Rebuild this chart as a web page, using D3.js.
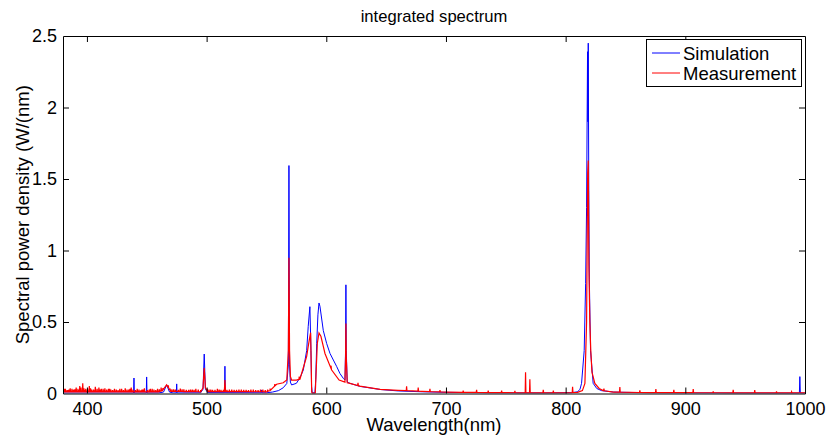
<!DOCTYPE html>
<html>
<head>
<meta charset="utf-8">
<script src="https://cdn.jsdelivr.net/npm/d3@7"></script>
<style>
  body { margin: 0; background: #fff; }
  text { font-family: "Liberation Sans", Arial, sans-serif; fill: #000; }
</style>
</head>
<body>
<div id="chart"></div>
<script>
// simulated spectrum: smooth shape (nm, W/nm)
var simWl = [380, 430, 460, 464, 466.6, 469, 472, 495, 497, 498, 499, 501, 550, 555, 560, 564, 567,
  568.3, 568.8, 569.3, 570, 571, 575, 578, 580.8, 583.6, 584.9, 586.3, 587.2, 587.7, 588.3, 590.5,
  591.2, 592, 593, 593.9, 594.7, 597.5, 600.3, 603.1, 605.9, 608.6, 611.4, 614.2, 615.6, 616.1, 616.4, 616.7, 617.5,
  619.8, 628, 645, 660, 680, 700, 730, 780, 805, 810, 812, 813.3, 815.5, 816.7, 817.5, 818.3, 818.6,
  818.9, 819.3, 819.8, 820.8, 823, 826, 830, 840, 860, 900, 990, 995.3, 995.7, 996.1, 1000];
var simVal = [0.003, 0.003, 0.004, 0.01, 0.06, 0.01, 0.004, 0.005, 0.03, 0.276, 0.03, 0.006, 0.005, 0.01, 0.02, 0.04, 0.07,
  0.2, 1.594, 0.2, 0.08, 0.06, 0.071, 0.11, 0.164, 0.30, 0.47, 0.607, 0.3, 0.05, 0.005, 0.005,
  0.1, 0.35, 0.55, 0.633, 0.61, 0.44, 0.35, 0.28, 0.234, 0.19, 0.14, 0.106, 0.094, 0.3, 0.76, 0.3, 0.08,
  0.071, 0.05, 0.028, 0.018, 0.012, 0.008, 0.005, 0.004, 0.006, 0.012, 0.03, 0.071, 0.30, 0.77, 1.3, 2.39, 1.9,
  2.45, 1.5, 0.8, 0.30, 0.071, 0.035, 0.02, 0.01, 0.006, 0.004, 0.003, 0.003, 0.118, 0.003, 0.003];
// narrow simulated lines (nm, height above curve)
var simLineWl = [439.3, 449.9, 475, 515.3, 546];
var simLineH = [0.105, 0.112, 0.063, 0.185, 0.02];

// measured spectrum: smooth shape
var measWl = [380, 460, 463, 466.6, 470, 495, 497, 498, 499, 501, 514.8, 515.3, 515.8, 550, 553, 556, 558.5, 564, 567,
  568.3, 568.8, 569.3, 570, 571, 575, 578, 580.8, 583.6, 584.9, 586.3, 586.9, 587.4, 587.8, 588.3, 590.8,
  591.5, 592.5, 593.9, 595.5, 597.5, 598.9, 604.5, 610.7, 615.6, 616.1, 616.4, 616.7, 617.5, 619.8, 628,
  645, 660, 680, 700, 730, 760, 800, 810, 814, 816.1, 817.5, 818.4, 818.9, 819.4, 820.2, 821, 822, 824.4,
  828, 831.4, 840, 870, 1000];
var measVal = [0.012, 0.012, 0.02, 0.06, 0.015, 0.012, 0.04, 0.178, 0.04, 0.013, 0.013, 0.094, 0.013, 0.012, 0.02, 0.045, 0.065, 0.075, 0.094,
  0.3, 0.95, 0.3, 0.12, 0.094, 0.094, 0.1, 0.18, 0.26, 0.33, 0.40, 0.425, 0.2, 0.01, 0.003, 0.003,
  0.15, 0.35, 0.423, 0.40, 0.33, 0.28, 0.164, 0.094, 0.08, 0.25, 0.49, 0.25, 0.075, 0.071, 0.052,
  0.029, 0.022, 0.015, 0.01, 0.007, 0.005, 0.005, 0.008, 0.02, 0.071, 0.5, 1.54, 1.63, 0.9, 0.5, 0.3, 0.15, 0.071,
  0.035, 0.02, 0.01, 0.006, 0.004];
// narrow measured lines / noise spikes (nm, height above curve)
var measLineWl = [381, 384, 386, 389, 391, 394, 396.5, 399, 402, 404, 407, 410, 412, 415, 418, 420, 423, 426, 429,
  432, 435, 437, 442, 446, 448, 453, 456, 459, 462, 471, 474, 478, 481, 485, 488, 491, 495, 502, 505, 509,
  512, 519, 523, 527, 531, 535, 539, 543, 547, 551, 577.4, 604, 626.5, 667.1, 676.8, 686.6, 695, 714.4,
  725.6, 735.3, 746.5, 757.6, 766.5, 770.1, 781.3, 789.7, 805.8, 832, 845.3, 862, 875.4, 890.4, 906.6,
  923.3, 940, 958, 976.2, 988.8,
  380.5, 382, 383, 385, 387.5, 388.5, 390, 392.5, 393.5, 395, 397.5, 398.5, 400.5, 403, 405.5, 406,
  408.5, 411, 413.5, 414, 416.5, 419, 421.5, 424.5, 427.5, 430.5, 433.5, 436, 438.5, 440.5, 443.5, 445,
  447, 450.5, 452, 454.5, 457.5, 460.5, 463.5, 468, 469.5, 472.5, 476.5, 479.5, 483, 486.5, 489.5, 493,
  500.5, 503.5, 507, 510.5, 514, 517, 521, 525, 529, 533, 537, 541, 545, 549, 553, 557];
var measLineH = [0.02, 0.012, 0.025, 0.015, 0.03, 0.04, 0.06, 0.02, 0.04, 0.015, 0.035, 0.03, 0.02, 0.025, 0.02, 0.015, 0.02, 0.012, 0.02,
  0.025, 0.015, 0.03, 0.02, 0.015, 0.025, 0.02, 0.015, 0.02, 0.025, 0.015, 0.012, 0.02, 0.015, 0.012, 0.015, 0.02, 0.012, 0.015, 0.012, 0.02,
  0.012, 0.015, 0.012, 0.015, 0.012, 0.012, 0.015, 0.012, 0.015, 0.012, 0.02, 0.02, 0.02, 0.03, 0.025, 0.02, 0.012, 0.012,
  0.018, 0.014, 0.014, 0.014, 0.143, 0.095, 0.02, 0.015, 0.04, 0.015, 0.035, 0.015, 0.025, 0.02, 0.025,
  0.01, 0.02, 0.02, 0.01, 0.008,
  0.015, 0.02, 0.01, 0.015, 0.02, 0.01, 0.018, 0.02, 0.012, 0.03, 0.025, 0.012, 0.02, 0.025, 0.015, 0.01,
  0.02, 0.015, 0.02, 0.01, 0.015, 0.02, 0.012, 0.015, 0.02, 0.012, 0.015, 0.02, 0.015, 0.012, 0.015, 0.01,
  0.015, 0.012, 0.015, 0.02, 0.012, 0.015, 0.012, 0.015, 0.012, 0.015, 0.012, 0.015, 0.012, 0.015, 0.012, 0.015,
  0.012, 0.015, 0.012, 0.015, 0.012, 0.012, 0.015, 0.012, 0.015, 0.012, 0.015, 0.012, 0.015, 0.012, 0.015, 0.012];

var xTicks = [400, 500, 600, 700, 800, 900, 1000];
var yTicks = [0, 0.5, 1, 1.5, 2, 2.5];
var seriesNames = ['Simulation', 'Measurement'];
var seriesColors = ['#0000ff', '#ff0000'];

var width = 826, height = 437;
var plotLeft = 63, plotRight = 805, plotTop = 36, plotBottom = 393.5;

var svg = d3.select('#chart').append('svg')
  .attr('width', width).attr('height', height);

var x = d3.scaleLinear().domain([380, 1000]).range([plotLeft, plotRight]);
var y = d3.scaleLinear().domain([0, 2.5]).range([plotBottom, plotTop]);

// merge the smooth curve and the narrow lines into one point list
function buildSeries(wl, val, lineWl, lineH) {
  var pts = wl.map(function(w, i) { return [w, val[i]]; });
  function base(w) {
    for (var i = 1; i < wl.length; i++) {
      if (w <= wl[i]) {
        var t = (w - wl[i - 1]) / (wl[i] - wl[i - 1]);
        return val[i - 1] + t * (val[i] - val[i - 1]);
      }
    }
    return val[val.length - 1];
  }
  lineWl.forEach(function(w, i) {
    pts.push([w - 0.3, base(w - 0.3)]);
    pts.push([w, base(w) + lineH[i]]);
    pts.push([w + 0.3, base(w + 0.3)]);
  });
  pts.sort(function(a, b) { return a[0] - b[0]; });
  return pts;
}

var sim = buildSeries(simWl, simVal, simLineWl, simLineH);
var meas = buildSeries(measWl, measVal, measLineWl, measLineH);

svg.append('clipPath').attr('id', 'clip')
  .append('rect').attr('x', plotLeft).attr('y', plotTop)
  .attr('width', plotRight - plotLeft).attr('height', plotBottom - plotTop);

var line = d3.line()
  .x(function(d) { return x(d[0]); })
  .y(function(d) { return y(d[1]); });

var plot = svg.append('g').attr('clip-path', 'url(#clip)');
[sim, meas].forEach(function(s, i) {
  plot.append('path')
    .attr('d', line(s))
    .attr('fill', 'none')
    .attr('stroke', seriesColors[i])
    .attr('stroke-width', i === 1 ? 1.2 : 1);
});

// axes, MATLAB style: box with inward ticks
var fs = 18, labelFs = 18.5;
var gx = svg.append('g').attr('transform', 'translate(0,' + plotBottom + ')')
  .call(d3.axisBottom(x).tickValues(xTicks).tickSizeInner(-6).tickSizeOuter(0).tickPadding(9).tickFormat(d3.format('d')));
var gxt = svg.append('g').attr('transform', 'translate(0,' + plotTop + ')')
  .call(d3.axisTop(x).tickValues(xTicks).tickSizeInner(-6).tickSizeOuter(0).tickFormat(''));
var gy = svg.append('g').attr('transform', 'translate(' + plotLeft + ',0)')
  .call(d3.axisLeft(y).tickValues(yTicks).tickSizeInner(-6).tickSizeOuter(0).tickPadding(6).tickFormat(d3.format('')));
var gyr = svg.append('g').attr('transform', 'translate(' + plotRight + ',0)')
  .call(d3.axisRight(y).tickValues(yTicks).tickSizeInner(-6).tickSizeOuter(0).tickFormat(''));

[gx, gxt, gy, gyr].forEach(function(g) {
  g.selectAll('.domain').attr('stroke', '#000').attr('stroke-width', 1);
  g.selectAll('.tick line').attr('stroke', '#000');
  g.selectAll('text').style('font-size', fs + 'px').style('font-family', '"Liberation Sans", Arial, sans-serif').attr('fill', '#000');
});
// hide tick marks at the axis ends
gx.selectAll('.tick line').filter(function(d) { return d === 1000; }).remove();
gxt.selectAll('.tick line').filter(function(d) { return d === 1000; }).remove();
gy.selectAll('.tick line').filter(function(d) { return d === 0 || d === 2.5; }).remove();
gyr.selectAll('.tick line').filter(function(d) { return d === 0 || d === 2.5; }).remove();

svg.append('text').attr('x', (plotLeft + plotRight) / 2).attr('y', 22)
  .attr('text-anchor', 'middle').style('font-size', '16.6px').text('integrated spectrum');
svg.append('text').attr('x', (plotLeft + plotRight) / 2).attr('y', 431)
  .attr('text-anchor', 'middle').style('font-size', labelFs + 'px').text('Wavelength(nm)');
svg.append('text').attr('transform', 'translate(29,' + ((plotTop + plotBottom) / 2) + ') rotate(-90)')
  .attr('text-anchor', 'middle').style('font-size', labelFs + 'px').text('Spectral power density (W/(nm)');

// legend
var lg = svg.append('g');
lg.append('rect').attr('x', 646.5).attr('y', 39.5).attr('width', 155).attr('height', 47)
  .attr('fill', '#fff').attr('stroke', '#000').attr('stroke-width', 1);
seriesNames.forEach(function(name, i) {
  var ly = 53 + i * 20;
  lg.append('line').attr('x1', 652).attr('x2', 680).attr('y1', ly).attr('y2', ly)
    .attr('stroke', seriesColors[i]).attr('stroke-width', 1);
  lg.append('text').attr('x', 683).attr('y', ly + 6.5).style('font-size', labelFs + 'px').text(name);
});
</script>
</body>
</html>
